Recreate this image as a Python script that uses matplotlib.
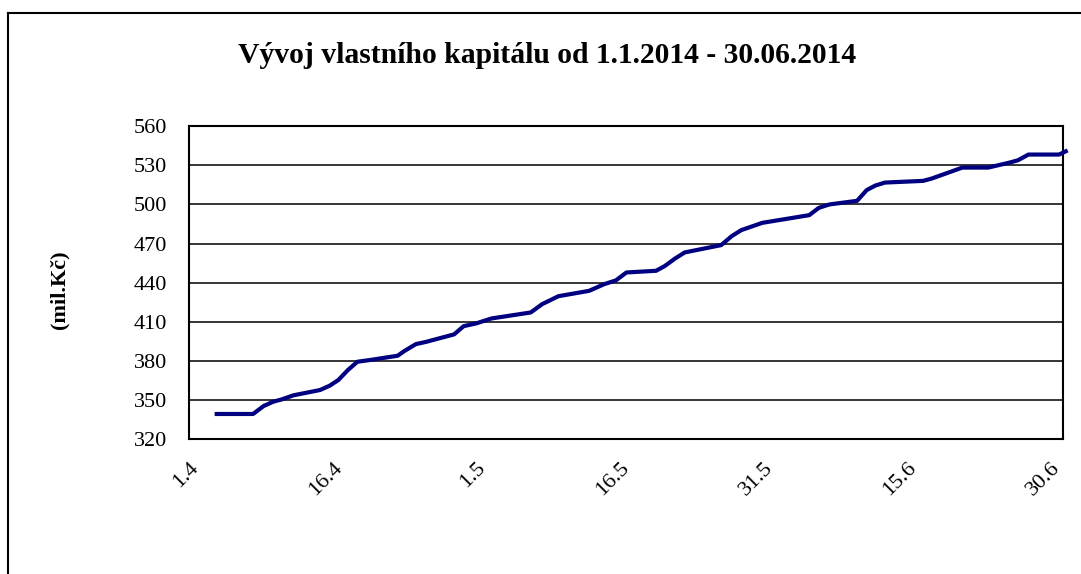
import matplotlib
matplotlib.use("Agg")
import matplotlib.pyplot as plt
from matplotlib.lines import Line2D

# days counted from 1.4.2014, values in mil. Kč
days = [2.9, 6.7, 7.8, 8.8, 9.7, 10.9, 13.7, 14.7, 15.6, 16.6, 17.6, 18.9, 21.8, 22.5,
        23.7, 24.8, 27.7, 28.7, 30.0, 31.6, 35.7, 36.9, 38.6, 41.8, 43.4, 44.6, 45.7,
        48.8, 49.7, 50.8, 51.8, 55.6, 56.7, 57.7, 59.9, 64.8, 65.8, 66.9, 69.8, 70.8,
        71.7, 72.7, 76.7, 77.6, 80.8, 83.5, 85.6, 86.6, 87.7, 90.9, 91.6]
values = [339.2, 339.2, 345.3, 348.6, 350.4, 353.5, 357.6, 360.9, 365.2, 372.9, 379.3,
          380.6, 383.9, 387.5, 392.8, 394.6, 400.3, 406.6, 408.7, 412.5, 417.1, 423.5,
          429.6, 433.7, 438.9, 441.7, 447.8, 449.1, 452.7, 458.6, 463.2, 468.8, 475.7,
          480.3, 485.9, 491.8, 497.4, 500.0, 502.8, 511.0, 514.5, 516.8, 518.1, 519.9,
          528.3, 528.3, 531.9, 533.9, 538.3, 538.3, 540.8]

tick_days = [0, 15, 30, 45, 60, 75, 90]
tick_labels = ["1.4", "16.4", "1.5", "16.5", "31.5", "15.6", "30.6"]
y_ticks = [320, 350, 380, 410, 440, 470, 500, 530, 560]

title = "Vývoj vlastního kapitálu od 1.1.2014 - 30.06.2014"
ylabel = "(mil.Kč)"

plt.rcParams["font.family"] = ["Liberation Serif", "DejaVu Serif"]

fig = plt.figure(figsize=(10.81, 5.74), dpi=100)
ax = fig.add_axes([0.1748, 0.2352, 0.8081, 0.5448])

ax.plot(days, values, color="#000080", lw=3.0, solid_joinstyle="round",
        clip_on=False, zorder=3)

ax.set_xlim(0.36, 91.26)
ax.set_ylim(320, 560)
ax.set_yticks(y_ticks)
ax.set_xticks(tick_days)
ax.set_xticklabels(tick_labels, rotation=45, ha="right", va="top",
                   rotation_mode="anchor")
ax.tick_params(axis="both", length=0, labelsize=16)
ax.tick_params(axis="y", pad=16)
ax.tick_params(axis="x", pad=14)

ax.grid(axis="y", color="black", lw=1.1)
ax.set_axisbelow(True)
for s in ax.spines.values():
    s.set_linewidth(1.5)
    s.set_color("black")

fig.text(0.506, 0.903, title, ha="center", va="center", fontsize=21.3,
         fontweight="bold")
fig.text(0.0546, 0.4948, ylabel, ha="center", va="center", rotation=90,
         fontsize=16, fontweight="bold")

# outer chart border (cut off on the right and at the bottom)
fig.add_artist(Line2D([0.0074, 0.0074], [0.9779, -0.05], color="black", lw=1.5,
                      transform=fig.transFigure))
fig.add_artist(Line2D([0.0074, 1.05], [0.9779, 0.9779], color="black", lw=1.5,
                      transform=fig.transFigure))

fig.savefig("out.png", dpi=100)
